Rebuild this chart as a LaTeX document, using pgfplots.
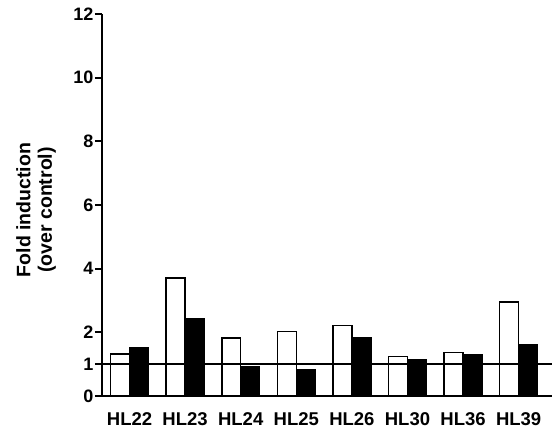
\documentclass[border=0pt]{standalone}
\usepackage{fontspec}
\setmainfont{Liberation Sans}
\usepackage{pgfplots}
\pgfplotsset{compat=1.18}
\begin{document}
\begin{tikzpicture}
\path[use as bounding box] (-102pt,-38pt) rectangle (452pt,396pt);
\begin{axis}[
  at={(0,0)}, anchor=south west,
  scale only axis, width=450pt, height=382pt,
  xmin=-0.495, xmax=7.6, ymin=0, ymax=12,
  axis x line*=bottom, axis y line*=left,
  axis line style={line width=1.8pt},
  xtick={0,...,7},
  xticklabels={HL22,HL23,HL24,HL25,HL26,HL30,HL36,HL39},
  x tick style={draw=none},
  ytick={0,1,2,4,6,8,10,12},
  y tick style={line width=1.8pt, black},
  tick align=outside, major tick length=7pt,
  /pgf/number format/assume math mode=true,
  xticklabel style={font=\fontsize{18.5}{20}\selectfont\bfseries, anchor=north, yshift=-6pt},
  yticklabel style={font=\fontsize{18}{20}\selectfont\bfseries, inner sep=1.5pt},
  ylabel={Fold induction\\(over control)},
  ylabel style={font=\fontsize{19.5}{21.5}\selectfont\bfseries, align=center,
    at={(axis description cs:0,0.487)}, anchor=center, yshift=66pt},
  bar width=0.34, ybar, bar shift=0pt,
  clip=false,
]
\addplot[draw=black, fill=white, line width=1.5pt, bar shift=-0.17] coordinates {
  (0,1.32) (1,3.70) (2,1.82) (3,2.02) (4,2.21) (5,1.24) (6,1.36) (7,2.95)};
\addplot[draw=black, fill=black, line width=1.5pt, bar shift=0.17] coordinates {
  (0,1.52) (1,2.43) (2,0.93) (3,0.84) (4,1.83) (5,1.13) (6,1.31) (7,1.60)};
\addplot[sharp plot, black, line width=1.8pt, forget plot] coordinates {(-0.495,1) (7.6,1)};
\end{axis}
\end{tikzpicture}
\end{document}
